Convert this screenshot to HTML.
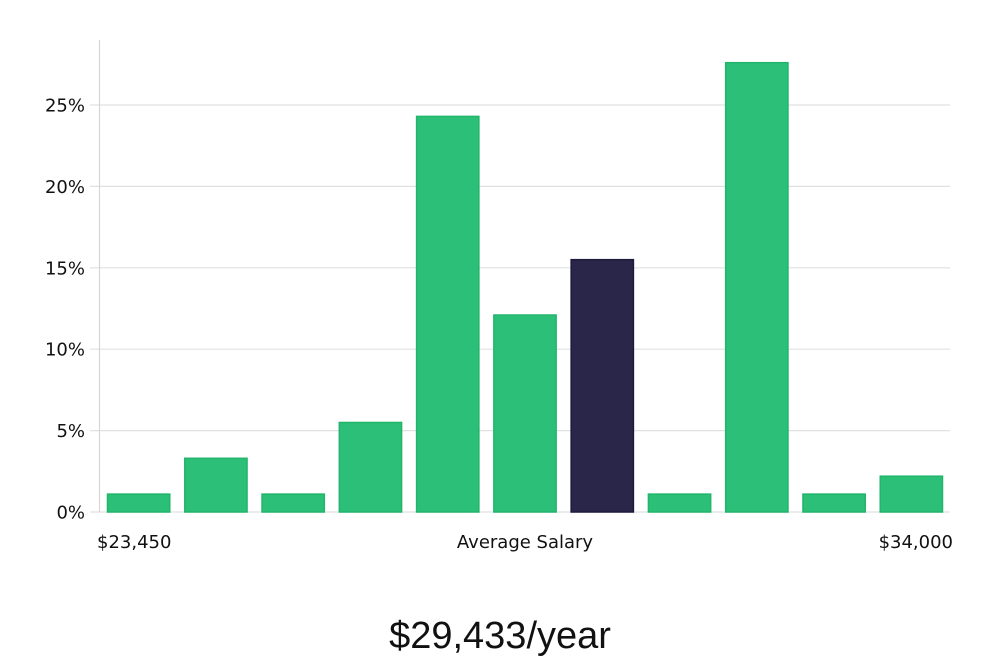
<!DOCTYPE html>
<html><head><meta charset="utf-8"><style>
html,body{margin:0;padding:0;background:#fff;width:1000px;height:660px;overflow:hidden}
text{font-family:"DejaVu Sans","Liberation Sans",sans-serif}
</style></head><body>
<svg id="chart" width="1000" height="660" xmlns="http://www.w3.org/2000/svg">
<g id="grid"></g>
<line x1="99.5" y1="40" x2="99.5" y2="512" stroke="#d6d6d6" stroke-width="1.2"/>
<g id="yticks"></g>
<g id="bars"></g>
<text x="97" y="548" font-size="18" fill="#111">$23,450</text>
<text x="525" y="548" font-size="18" fill="#111" text-anchor="middle">Average Salary</text>
<text x="953" y="548" font-size="18" fill="#111" text-anchor="end">$34,000</text>
<text x="500" y="648" font-size="38" fill="#111" text-anchor="middle" style="font-family:'Liberation Sans',sans-serif;font-weight:300">$29,433/year</text>
</svg>
<script>
const values = [1.1, 3.3, 1.1, 5.5, 24.3, 12.1, 15.5, 1.1, 27.6, 1.1, 2.2];
const highlightIndex = [6];
const yTicks = [0, 5, 10, 15, 20, 25];
const yTickLabels = ["0%", "5%", "10%", "15%", "20%", "25%"];

const ns = "http://www.w3.org/2000/svg";
const x0 = 100, x1 = 950, yBase = 512, pxPerPct = 16.28;
const y = v => yBase - v * pxPerPct;
const slot = (x1 - x0) / values.length;
const x = i => x0 + i * slot;

const grid = document.getElementById('grid');
const yt = document.getElementById('yticks');
yTicks.forEach((t, i) => {
  const l = document.createElementNS(ns, 'line');
  
  
  l.setAttribute('x1', 90); l.setAttribute('x2', x1);
  l.setAttribute('y1', y(t)); l.setAttribute('y2', y(t));
  l.setAttribute('stroke', '#e0e0e0'); l.setAttribute('stroke-width', '1.2');
  grid.appendChild(l);
  const tx = document.createElementNS(ns, 'text');
  
  
  tx.setAttribute('x', 85); tx.setAttribute('y', y(t) + 6.5);
  tx.setAttribute('text-anchor', 'end'); tx.setAttribute('font-size', '18'); tx.setAttribute('fill', '#111');
  tx.textContent = yTickLabels[i];
  yt.appendChild(tx);
});

const bars = document.getElementById('bars');
values.forEach((v, i) => {
  const hi = highlightIndex.includes(i);
  const r = document.createElementNS(ns, 'rect');
  
  
  r.setAttribute('x', x(i) + 7.5); r.setAttribute('width', slot - 15);
  r.setAttribute('y', y(v)); r.setAttribute('height', yBase - y(v));
  r.setAttribute('fill', hi ? '#29264a' : '#2bbf77');
  r.setAttribute('stroke', hi ? '#1d1a3a' : '#22b56c'); r.setAttribute('stroke-width', '1.5');
  bars.appendChild(r);
});
</script>
</body></html>
